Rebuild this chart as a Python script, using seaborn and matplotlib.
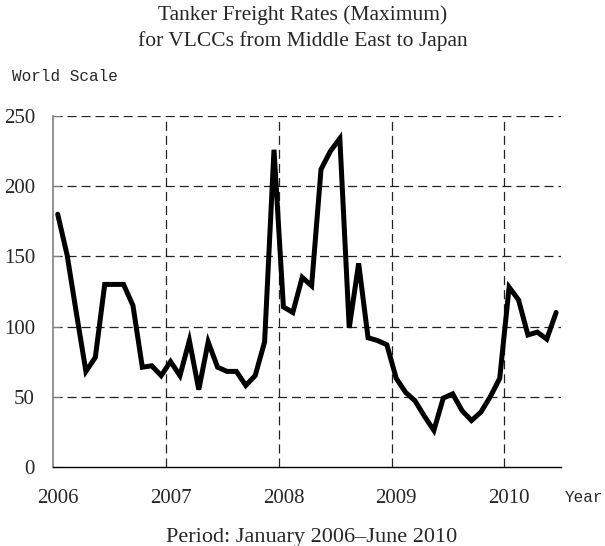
import numpy as np
import pandas as pd
import matplotlib
matplotlib.use("Agg")
import matplotlib.pyplot as plt
import seaborn as sns

# Monthly maximum rates (World Scale), Jan 2006 - Jun 2010
rates_2006 = [180, 151, 109, 68, 78, 130, 130, 130, 115, 71, 72, 65]
rates_2007 = [75, 65, 90, 55, 89, 71, 68, 68, 58, 65, 89, 226]
rates_2008 = [114, 110, 135, 129, 212, 225, 234, 99, 145, 92, 90, 87]
rates_2009 = [63, 53, 47, 36, 26, 49, 52, 40, 33, 39, 50, 63]
rates_2010 = [128, 119, 94, 96, 91, 110]

year_labels = ["2006", "2007", "2008", "2009", "2010"]
y_ticks = [0, 50, 100, 150, 200, 250]

rates = rates_2006 + rates_2007 + rates_2008 + rates_2009 + rates_2010
df = pd.DataFrame({"month": np.arange(len(rates)), "rate": rates})

sns.set_style("white")
plt.rcParams["font.family"] = ["Liberation Serif", "DejaVu Serif"]
plt.rcParams["lines.scale_dashes"] = False

fig = plt.figure(figsize=(6.05, 5.46), dpi=100)
ax = fig.add_axes([0.0876, 0.145, 0.927 - 0.0876, 0.7875 - 0.145])

sns.lineplot(data=df, x="month", y="rate", ax=ax, color="black",
             linewidth=3.6, solid_joinstyle="miter")

ax.set_xlim(-0.5, len(rates) - 0.5)
ax.set_ylim(0, 250)

# gridlines between December and January
for i in range(1, len(year_labels)):
    ax.axvline(12 * i - 0.5, color="#222222", lw=0.9, dashes=(6.5, 3.6), zorder=0)
for v in y_ticks[1:]:
    ax.axhline(v, color="#222222", lw=0.9, dashes=(6.5, 3.6), zorder=0)

ax.set_xticks([12 * i for i in range(len(year_labels))])
ax.set_xticklabels(year_labels)
ax.set_yticks(y_ticks)
ax.tick_params(axis="x", length=0, pad=16, labelsize=15)
ax.tick_params(axis="y", direction="in", length=5, width=0.8, color="#808080",
               pad=13, labelsize=15, left=True)

for s in ["top", "right"]:
    ax.spines[s].set_visible(False)
ax.spines["left"].set_color("#808080")
ax.spines["left"].set_linewidth(1.2)
ax.spines["bottom"].set_color("black")
ax.spines["bottom"].set_linewidth(1.0)
ax.set_xlabel("")
ax.set_ylabel("")

fig.text(0.5, 0.973, "Tanker Freight Rates (Maximum)", ha="center", va="center", fontsize=15.5)
fig.text(0.5, 0.924, "for VLCCs from Middle East to Japan", ha="center", va="center", fontsize=15.5)
fig.text(0.02, 0.859, "World Scale", ha="left", va="center", fontsize=11.5,
         family=["Liberation Mono", "DejaVu Sans Mono"])
fig.text(0.934, 0.089, "Year", ha="left", va="center", fontsize=11.5,
         family=["Liberation Mono", "DejaVu Sans Mono"])
fig.text(0.515, 0.016, "Period: January 2006\u2013June 2010", ha="center", va="center", fontsize=16)

fig.savefig("out.png", dpi=100)
